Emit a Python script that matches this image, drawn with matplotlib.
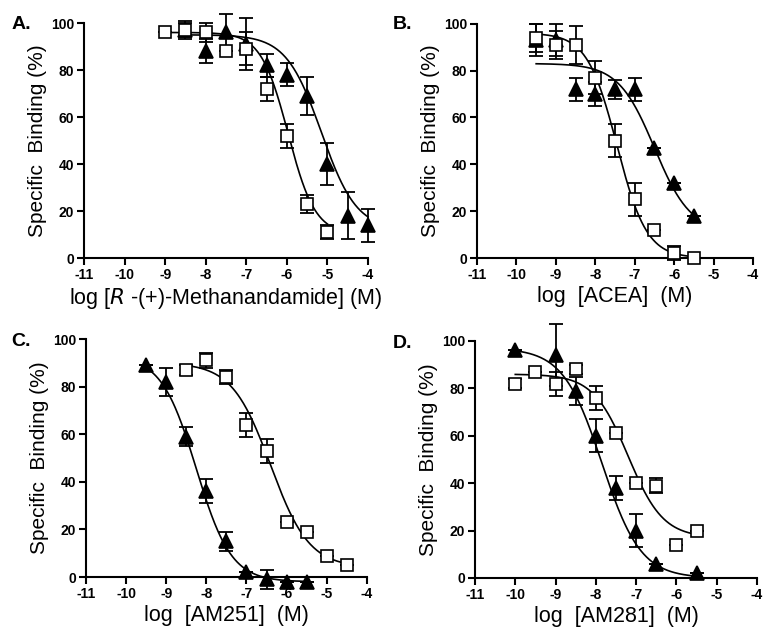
import matplotlib
matplotlib.use("Agg")
from matplotlib import pyplot as plt
import numpy as np

plt.rcParams['font.family'] = ['Liberation Sans', 'DejaVu Sans']
plt.rcParams['axes.unicode_minus'] = False

# panel A: R-(+)-Methanandamide
a_sq_x = [-9, -8.5, -8, -7.5, -7, -6.5, -6, -5.5, -5]
a_sq_y = [96, 97, 96, 88, 89, 72, 52, 23, 11]
a_sq_e = [0, 4, 4, 0, 7, 5, 5, 4, 3]
a_tr_x = [-8.5, -8, -7.5, -7, -6.5, -6, -5.5, -5, -4.5, -4]
a_tr_y = [97, 88, 96, 91, 82, 78, 69, 40, 18, 14]
a_tr_e = [3, 5, 8, 11, 5, 5, 8, 9, 10, 7]

# panel B: ACEA
b_sq_x = [-9.5, -9, -8.5, -8, -7.5, -7, -6.5, -6, -5.5]
b_sq_y = [94, 91, 91, 77, 50, 25, 12, 2, 0]
b_sq_e = [6, 6, 8, 7, 7, 7, 0, 3, 0]
b_tr_x = [-9.5, -9, -8.5, -8, -7.5, -7, -6.5, -6, -5.5]
b_tr_y = [93, 93, 72, 70, 72, 72, 47, 32, 18]
b_tr_e = [7, 7, 5, 5, 4, 5, 0, 0, 0]

# panel C: AM251
c_sq_x = [-8.5, -8, -7.5, -7, -6.5, -6, -5.5, -5, -4.5]
c_sq_y = [87, 91, 84, 64, 53, 23, 19, 9, 5]
c_sq_e = [2, 3, 3, 5, 5, 0, 0, 0, 0]
c_tr_x = [-9.5, -9, -8.5, -8, -7.5, -7, -6.5, -6, -5.5]
c_tr_y = [89, 82, 59, 36, 15, 2, -1, -2, -2]
c_tr_e = [0, 6, 4, 5, 4, 0, 4, 0, 0]

# panel D: AM281
d_sq_x = [-10, -9.5, -9, -8.5, -8, -7.5, -7, -6.5, -6, -5.5]
d_sq_y = [82, 87, 82, 88, 76, 61, 40, 39, 14, 20]
d_sq_e = [2, 0, 5, 2, 5, 0, 0, 3, 0, 0]
d_tr_x = [-10, -9, -8.5, -8, -7.5, -7, -6.5, -5.5]
d_tr_y = [96, 94, 79, 60, 38, 20, 6, 2]
d_tr_e = [0, 13, 6, 7, 5, 7, 0, 0]

# fitted curves: (top, bottom, logIC50, hill)
a_sq_fit = (96, 10, -5.97, 1.3)
a_tr_fit = (95, 12, -5.15, 1.0)
b_sq_fit = (96, 0, -7.45, 1.15)
b_tr_fit = (83, 11, -6.5, 0.95)
c_sq_fit = (90, 4, -6.4, 0.9)
c_tr_fit = (93, -2, -8.25, 1.0)
d_sq_fit = (86, 17, -7.2, 1.0)
d_tr_fit = (97, 0, -7.85, 0.9)

panels = [
    ('A.', 'log [$\\mathit{R}$ -(+)-Methanandamide] (M)',
     (a_sq_x, a_sq_y, a_sq_e, a_sq_fit), (a_tr_x, a_tr_y, a_tr_e, a_tr_fit),
     [0.1085, 0.5937, 0.367, 0.370], (0.015, 0.955)),
    ('B.', 'log  [ACEA]  (M)',
     (b_sq_x, b_sq_y, b_sq_e, b_sq_fit), (b_tr_x, b_tr_y, b_tr_e, b_tr_fit),
     [0.6163, 0.5937, 0.3566, 0.369], (0.507, 0.955)),
    ('C.', 'log  [AM251]  (M)',
     (c_sq_x, c_sq_y, c_sq_e, c_sq_fit), (c_tr_x, c_tr_y, c_tr_e, c_tr_fit),
     [0.111, 0.0913, 0.363, 0.3748], (0.015, 0.455)),
    ('D.', 'log  [AM281]  (M)',
     (d_sq_x, d_sq_y, d_sq_e, d_sq_fit), (d_tr_x, d_tr_y, d_tr_e, d_tr_fit),
     [0.6137, 0.0898, 0.3643, 0.3732], (0.507, 0.452)),
]


def logistic(x, p):
    top, bottom, ic50, hill = p
    return bottom + (top - bottom) / (1 + 10 ** ((x - ic50) * hill))


fig = plt.figure(figsize=(7.74, 6.35), dpi=100)

for letter, xlabel, sq, tr, pos, lpos in panels:
    ax = fig.add_axes(pos)
    for (x, y, e, fit), marker, face in [(tr, '^', 'black'), (sq, 's', 'white')]:
        xs = np.linspace(min(x), max(x), 200)
        ax.plot(xs, logistic(xs, fit), color='black', lw=1.2, clip_on=False, zorder=2)
        ax.errorbar(x, y, yerr=e, fmt='none', ecolor='black', elinewidth=1.3,
                    capsize=5, capthick=1.3, clip_on=False, zorder=3)
        ax.plot(x, y, linestyle='none', marker=marker, markersize=9 if marker == 's' else 9.5,
                markerfacecolor=face, markeredgecolor='black', markeredgewidth=1.2,
                clip_on=False, zorder=4)
    ax.set_xlim(-11, -4)
    ax.set_ylim(0, 100)
    ax.set_xticks(np.arange(-11, -3, 1))
    ax.set_yticks([0, 20, 40, 60, 80, 100])
    ax.spines['top'].set_visible(False)
    ax.spines['right'].set_visible(False)
    ax.spines['left'].set_linewidth(1.5)
    ax.spines['bottom'].set_linewidth(1.5)
    ax.tick_params(width=1.5, length=5, labelsize=10, pad=2)
    for lab in ax.get_xticklabels() + ax.get_yticklabels():
        lab.set_fontweight('bold')
    ax.set_xlabel(xlabel, fontsize=15.5, labelpad=3)
    ax.set_ylabel('Specific  Binding (%)', fontsize=15, labelpad=3)
    fig.text(lpos[0], lpos[1], letter, fontsize=14, fontweight='bold')

fig.savefig('out.png', dpi=100)
